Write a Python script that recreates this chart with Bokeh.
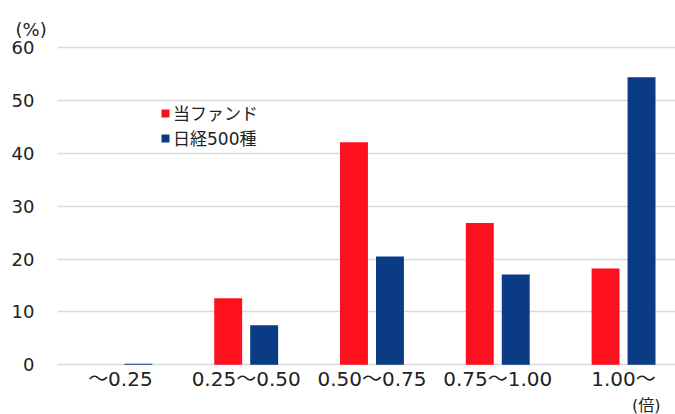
from bokeh.plotting import figure
from bokeh.models import ColumnDataSource, FixedTicker, Legend, LegendItem, Title
from bokeh.transform import dodge
from bokeh.embed import file_html
from bokeh.resources import INLINE

categories = ["～0.25", "0.25～0.50", "0.50～0.75", "0.75～1.00", "1.00～"]
fund = [0.0, 12.6, 42.1, 26.8, 18.2]
nikkei = [0.2, 7.5, 20.5, 17.1, 54.4]
series_names = ["当ファンド", "日経500種"]
y_ticks = [0, 10, 20, 30, 40, 50, 60]
y_unit = "(%)"
x_unit = "(倍)"

FONT = "DejaVu Sans, Noto Sans CJK JP"
RED = "#fe111f"
BLUE = "#0b3b85"
TXT = "#222222"

pos = [i + 0.5 for i in range(len(categories))]
src = ColumnDataSource(dict(x=pos, fund=fund, nikkei=nikkei, cat=categories))

p = figure(width=675, height=414, output_backend="svg", toolbar_location=None,
           x_range=(0, 4.913), y_range=(-0.5, 61.33),
           min_border_left=57, min_border_right=0, min_border_top=40, min_border_bottom=0,
           title=y_unit, title_location="above")
p.outline_line_color = None
p.background_fill_color = "white"
p.border_fill_color = "white"

p.title.align = "left"
p.title.offset = -42
p.title.text_font = FONT
p.title.text_font_size = "18px"
p.title.text_font_style = "normal"
p.title.text_color = TXT
p.title.standoff = 1

r1 = p.vbar(x=dodge("x", -0.143, range=p.x_range), top="fund", width=0.222, source=src,
            fill_color=RED, line_color=None)
r2 = p.vbar(x=dodge("x", 0.143, range=p.x_range), top="nikkei", width=0.222, source=src,
            fill_color=BLUE, line_color=None)

p.xaxis.ticker = FixedTicker(ticks=pos)
p.xaxis.major_label_overrides = {x: c for x, c in zip(pos, categories)}
p.xaxis.axis_line_color = None
p.xaxis.major_tick_line_color = None
p.xaxis.minor_tick_line_color = None
p.xaxis.major_label_text_font = FONT
p.xaxis.major_label_text_font_size = "20px"
p.xaxis.major_label_text_color = TXT
p.xaxis.major_label_standoff = -7
p.xgrid.grid_line_color = None

p.yaxis.ticker = FixedTicker(ticks=y_ticks)
p.yaxis.axis_line_color = None
p.yaxis.major_tick_line_color = None
p.yaxis.minor_tick_line_color = None
p.yaxis.major_label_text_font = FONT
p.yaxis.major_label_text_font_size = "18px"
p.yaxis.major_label_text_color = TXT
p.yaxis.major_label_standoff = 17
p.ygrid.grid_line_color = "#d9d9d9"
p.ygrid.grid_line_width = 1.5

legend = Legend(items=[LegendItem(label=series_names[0], renderers=[r1]),
                       LegendItem(label=series_names[1], renderers=[r2])],
                location=(103, 217), orientation="vertical")
legend.background_fill_alpha = 0
legend.border_line_color = None
legend.label_text_font = FONT
legend.label_text_font_size = "17px"
legend.label_text_color = TXT
legend.glyph_width = 10
legend.glyph_height = 10
legend.spacing = 0
legend.padding = 0
legend.margin = 0
legend.label_standoff = 3
p.add_layout(legend)

bt = Title(text=x_unit, align="right", offset=15, text_font=FONT, text_font_size="16px",
           text_font_style="normal", text_color=TXT, standoff=0)
p.add_layout(bt, "below")

open("out.html", "w").write(file_html(p, INLINE))
